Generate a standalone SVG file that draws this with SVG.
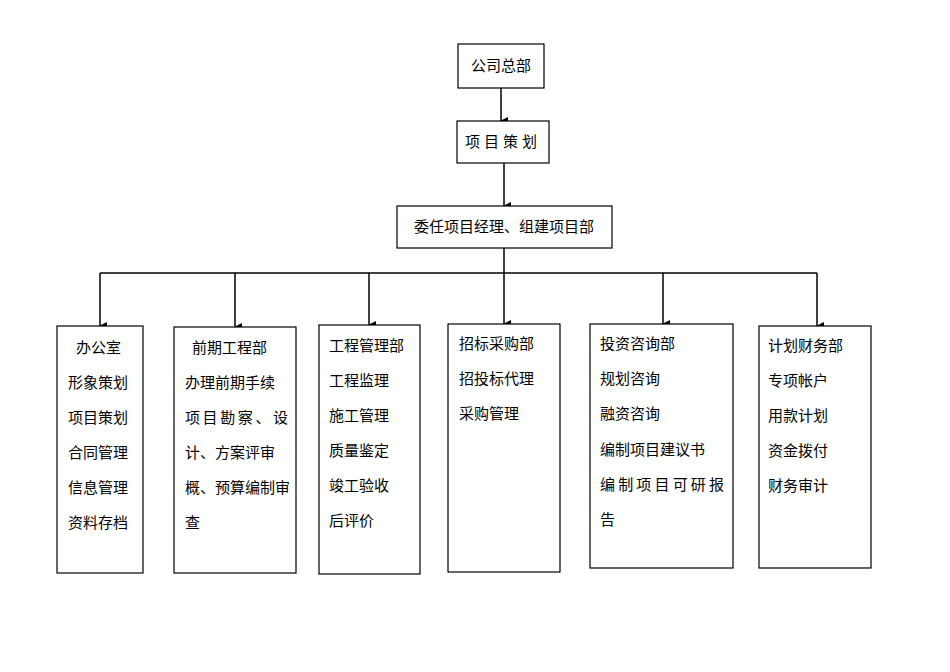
<svg xmlns="http://www.w3.org/2000/svg" width="950" height="672" viewBox="0 0 950 672">
<defs><marker id="a" markerWidth="8" markerHeight="8" refX="4" refY="7" orient="auto" markerUnits="userSpaceOnUse"><path d="M0,0 L8,0 L4,8 z" fill="#000"/></marker>
<style>rect{fill:#fff;stroke:#000;stroke-width:1.2}text{font-family:"Liberation Serif","Noto Sans CJK SC",serif;font-size:15px;fill:#000}.c line{stroke:#000;stroke-width:1.5}</style></defs>
<rect x="0" y="0" width="950" height="672" style="stroke:none"/>
<g class="c">
<line x1="501" y1="88" x2="501" y2="121" marker-end="url(#a)"/>
<line x1="504" y1="163" x2="504" y2="206" marker-end="url(#a)"/>
<line x1="504" y1="248" x2="504" y2="273"/>
<line x1="100" y1="273" x2="817" y2="273"/>
<line x1="100" y1="273" x2="100" y2="326" marker-end="url(#a)"/>
<line x1="235" y1="273" x2="235" y2="327" marker-end="url(#a)"/>
<line x1="369" y1="273" x2="369" y2="325" marker-end="url(#a)"/>
<line x1="504" y1="273" x2="504" y2="324" marker-end="url(#a)"/>
<line x1="663" y1="273" x2="663" y2="324" marker-end="url(#a)"/>
<line x1="817" y1="273" x2="817" y2="326" marker-end="url(#a)"/>
</g>
<g id="n1"><rect x="458" y="44" width="86" height="44"/><text x="501" y="71" text-anchor="middle">公司总部</text></g>
<g id="n2"><rect x="457" y="121" width="92" height="42"/><text x="503" y="147" text-anchor="middle" letter-spacing="4">项目策划</text></g>
<g id="n3"><rect x="397" y="206" width="215" height="42"/><text x="504" y="232" text-anchor="middle">委任项目经理、组建项目部</text></g>
<g id="b1"><rect x="57" y="326" width="86" height="247"/>
<text x="76" y="353">办公室</text><text x="68" y="388">形象策划</text><text x="68" y="423">项目策划</text><text x="68" y="458">合同管理</text><text x="68" y="493">信息管理</text><text x="68" y="528">资料存档</text></g>
<g id="b2"><rect x="174" y="327" width="122" height="246"/>
<text x="192" y="353">前期工程部</text><text x="185" y="388">办理前期手续</text><text x="185" y="423" textLength="103">项目勘察、设</text><text x="185" y="458">计、方案评审</text><text x="185" y="493">概、预算编制审</text><text x="185" y="528">查</text></g>
<g id="b3"><rect x="319" y="325" width="101" height="249"/>
<text x="329" y="351">工程管理部</text><text x="329" y="386">工程监理</text><text x="329" y="421">施工管理</text><text x="329" y="456">质量鉴定</text><text x="329" y="491">竣工验收</text><text x="329" y="526">后评价</text></g>
<g id="b4"><rect x="448" y="324" width="112" height="248"/>
<text x="459" y="349">招标采购部</text><text x="459" y="384">招投标代理</text><text x="459" y="419">采购管理</text></g>
<g id="b5"><rect x="590" y="324" width="143" height="244"/>
<text x="600" y="349">投资咨询部</text><text x="600" y="384">规划咨询</text><text x="600" y="419">融资咨询</text><text x="600" y="455">编制项目建议书</text><text x="600" y="490" textLength="124">编制项目可研报</text><text x="600" y="525">告</text></g>
<g id="b6"><rect x="759" y="326" width="112" height="242"/>
<text x="768" y="351">计划财务部</text><text x="768" y="386">专项帐户</text><text x="768" y="421">用款计划</text><text x="768" y="456">资金拨付</text><text x="768" y="491">财务审计</text></g>
</svg>
